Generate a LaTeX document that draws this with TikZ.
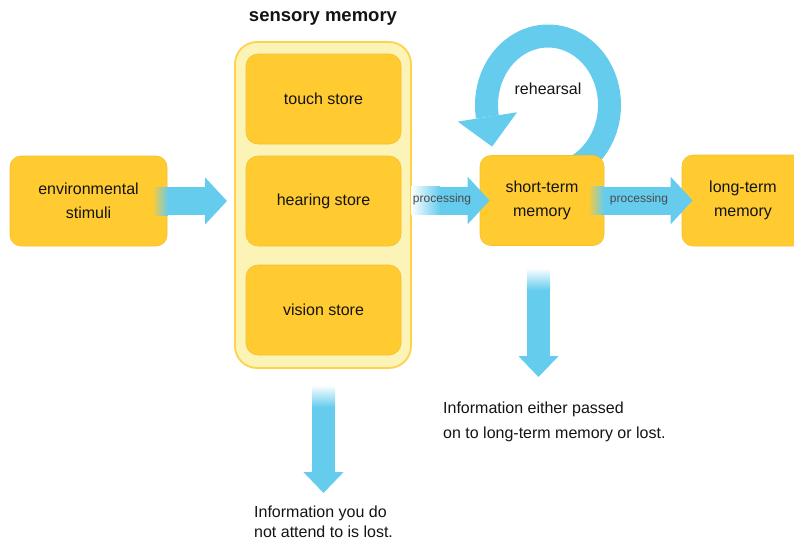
\documentclass[tikz,border=0pt]{standalone}
\usepackage{fontspec}
\setmainfont{Liberation Sans}
\usetikzlibrary{arrows.meta,calc}
\definecolor{boxY}{HTML}{FFCB31}
\definecolor{boxE}{HTML}{F5C02A}
\definecolor{outerF}{HTML}{FBF4B6}
\definecolor{outerE}{HTML}{FFD24A}
\definecolor{arrB}{HTML}{66CCEE}
\definecolor{txt}{HTML}{141414}
\definecolor{ptxt}{HTML}{4A4A4A}
\begin{document}
\begin{tikzpicture}[x=1pt,y=-1pt,
  box/.style={draw=boxE, fill=boxY, rounded corners=11pt, line width=0.6pt,
    align=center, font=\fontsize{16}{24}\selectfont, text=txt, inner sep=0pt},
  outerbox/.style={draw=outerE, fill=outerF, rounded corners=22pt, line width=1.8pt, inner sep=0pt},
  fat/.style={draw=arrB, line width=28pt, -{Triangle[width=46pt,length=22pt]}},
  slim/.style={draw=arrB, line width=23pt, -{Triangle[width=39pt,length=21pt]}},
  plbl/.style={font=\fontsize{12}{14}\selectfont, text=ptxt, inner sep=0pt},
  lbl/.style={font=\fontsize{16}{20}\selectfont, text=txt, align=left, inner sep=0pt}
]
\useasboundingbox (0,0) rectangle (794,546);
\clip (0,0) rectangle (794,546);
\fill[white] (0,0) rectangle (794,546);

% rehearsal loop (behind short-term box)
\draw[arrB, line width=23pt] plot[domain=70:-190, samples=90, smooth]
  ({548+61.5*cos(\x)}, {105+69*sin(\x)});
\fill[arrB] (517.0,112.3) -- (492.1,146.6) -- (457.8,121.6) -- cycle;
\node[font=\fontsize{16}{20}\selectfont, text=txt, inner sep=0pt] (reh) at (548,89) {rehearsal};

% boxes
\node[box, minimum width=157pt, minimum height=90pt] (env) at (88.5,201) {environmental\\stimuli};
\node[outerbox, minimum width=176pt, minimum height=326pt] (sens) at (323,205) {};
\node[font=\bfseries\fontsize{18.5}{22}\selectfont, text=txt, inner sep=0pt] (title)
  at ([yshift=23pt]sens.north) {sensory memory};
\node[box, rounded corners=12pt, minimum width=155pt, minimum height=90pt] (touch) at (323.5,99) {touch store};
\node[box, rounded corners=12pt, minimum width=155pt, minimum height=90pt] (hear) at (323.5,201) {hearing store};
\node[box, rounded corners=12pt, minimum width=155pt, minimum height=90pt] (vis) at (323.5,310) {vision store};
\node[box, minimum width=124pt, minimum height=90pt] (stm) at (542,200.5) {short-term\\memory};
\node[box, minimum width=122pt, minimum height=91pt] (ltm) at (743,200.5) {long-term\\memory};

% text blocks
\node[lbl, anchor=north west] (lost) at (254,505.8) {Information you do\\not attend to is lost.};
\node[lbl, font=\fontsize{16}{25}\selectfont, anchor=north west] (pass) at (443,401.8)
  {Information either passed\\on to long-term memory or lost.};

% straight block arrows
\coordinate (tipA) at (227,201);
\draw[fat] ([xshift=-15pt]env.east) -- (tipA);
\shade[left color=boxY, right color=arrB] (152,187) rectangle (168,215);

\draw[fat] (sens.east |- stm.west) -- ([xshift=10pt]stm.west);
\shade[left color=white, right color=arrB] (411,186.5) rectangle (440,214.5);
\node[plbl] (p1) at (442,199) {processing};

\draw[fat] ([xshift=-16pt]stm.east) -- ([xshift=11pt]ltm.west);
\shade[left color=boxY, right color=arrB] (588,186.5) rectangle (604,214.5);
\node[plbl] (p2) at (639,199) {processing};

\coordinate (tipB) at (323.5,493);
\draw[slim] ([xshift=0.5pt,yshift=-17pt]sens.south) -- (tipB);
\shade[top color=white, bottom color=arrB] (312,385) rectangle (335,407);

\coordinate (tipC) at (538.5,377);
\draw[slim] ([xshift=-3.5pt,yshift=-23pt]stm.south) -- (tipC);
\shade[top color=white, bottom color=arrB] (527,268) rectangle (550,290);
\end{tikzpicture}
\end{document}
